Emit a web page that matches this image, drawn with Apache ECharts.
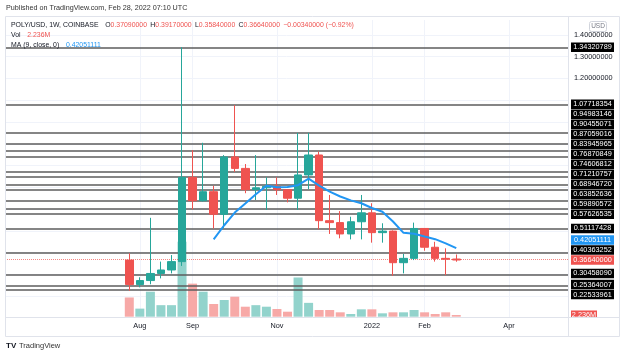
<!DOCTYPE html>
<html><head><meta charset="utf-8">
<script src="https://cdn.jsdelivr.net/npm/echarts@6/dist/echarts.min.js"></script>
<style>html,body{margin:0;padding:0;background:#fff}#c{width:624px;height:355px}</style>
</head><body><div id="c"></div>
<script>
// ---- data (weekly POLY/USD, Coinbase) ----
const weeks = ['2021-07-26','2021-08-02','2021-08-09','2021-08-16','2021-08-23','2021-08-30','2021-09-06','2021-09-13','2021-09-20','2021-09-27','2021-10-04','2021-10-11','2021-10-18','2021-10-25','2021-11-01','2021-11-08','2021-11-15','2021-11-22','2021-11-29','2021-12-06','2021-12-13','2021-12-20','2021-12-27','2022-01-03','2022-01-10','2022-01-17','2022-01-24','2022-01-31','2022-02-07','2022-02-14','2022-02-21','2022-02-28'];
const opens  = [0.366,0.2536,0.272,0.3046,0.3205,0.359,0.746,0.6385,0.680,0.5763,0.8395,0.787,0.6895,0.698,0.705,0.689,0.650,0.757,0.8485,0.547,0.538,0.486,0.542,0.583,0.492,0.499,0.354,0.374,0.5112,0.425,0.374,0.3709];
const highs  = [0.397,0.287,0.560,0.359,0.389,1.3432,0.8706,0.9046,0.707,0.848,1.0772,0.807,0.848,0.746,0.746,0.692,0.9498,0.9498,0.864,0.665,0.591,0.565,0.665,0.627,0.535,0.502,0.394,0.538,0.5112,0.450,0.420,0.3917];
const lows   = [0.2253,0.241,0.255,0.282,0.305,0.339,0.5989,0.635,0.5112,0.512,0.771,0.673,0.642,0.596,0.665,0.631,0.596,0.692,0.507,0.486,0.466,0.461,0.461,0.446,0.446,0.294,0.305,0.366,0.409,0.359,0.297,0.3584];
const closes = [0.2536,0.272,0.3046,0.3205,0.359,0.746,0.6385,0.680,0.5763,0.8395,0.787,0.6895,0.698,0.705,0.689,0.650,0.757,0.8485,0.547,0.538,0.486,0.542,0.583,0.492,0.499,0.354,0.374,0.5112,0.425,0.374,0.3698,0.3664];
const volumes = [25,10.5,32.5,15,15,97.5,43,32.5,16.5,21.7,26,13,15,13,10,6.5,51,18,8.7,8.7,5.7,3.5,9.6,9.6,4.4,5.7,5.7,8.7,5.7,3.5,5.7,2.236]; // millions
const ma9 = [null,null,null,null,null,null,null,null,0.461,0.526,0.584,0.626,0.668,0.707,0.700,0.702,0.710,0.740,0.708,0.680,0.658,0.640,0.627,0.605,0.588,0.543,0.491,0.487,0.474,0.462,0.443,0.42051111];
const levels = [1.34320789,1.07718354,0.94983146,0.90455071,0.87059016,0.83945965,0.76870849,0.74606812,0.71210757,0.68946720,0.63852636,0.59890572,0.57626535,0.51117428,0.40363252,0.30458090,0.25364007,0.22533961];
const priceTicks = [1.4, 1.3, 1.2];
const gridPrices = [1.4,1.3,1.2,1.1,1.0,0.9,0.8,0.7,0.6,0.5,0.4,0.3,0.2];
const tickLabels = [['2021-08-02','Aug'],['2021-09-06','Sep'],['2021-11-01','Nov'],['2022-01-03','2022'],['2022-02-07','Feb'],['2022-04-04','Apr']];

// ---- layout ----
const FONT = '"Liberation Sans", Arial, sans-serif';
const FS = 7.3;
const UP = '#26a69a', DOWN = '#ef5350', UPV = '#92d3cc', DOWNV = '#f7a9a7', BLUE = '#2196f3';
const PAD_L = 11, N = 53;
const PMIN = 0.1047, PMAX = 1.4683;

const cats = [];
const t0 = Date.UTC(2021, 6, 26);
for (let k = 0; k < N; k++) cats.push(new Date(t0 + (k - PAD_L) * 7 * 86400000).toISOString().slice(0, 10));
const labelMap = {}; tickLabels.forEach(t => labelMap[t[0]] = t[1]);

const candleData = weeks.map((w, i) => [w, opens[i], closes[i], lows[i], highs[i]]);
const volData = weeks.map((w, i) => ({value: [w, volumes[i]], itemStyle: {color: closes[i] >= opens[i] ? UPV : DOWNV}}));
const maData = weeks.map((w, i) => [w, ma9[i] == null ? '-' : ma9[i]]);

const chart = echarts.init(document.getElementById('c'), null, {renderer: 'canvas'});
chart.setOption({
  animation: false,
  backgroundColor: '#fff',
  grid: [
    {left: 5, top: 20, width: 563, height: 297},
    {left: 8, top: 20, width: 559, height: 297},
    {left: 8, top: 241.7, width: 559, height: 75}
  ],
  xAxis: [
    {gridIndex: 0, type: 'value', min: 0, max: 1, show: false},
    {gridIndex: 1, type: 'category', data: cats, boundaryGap: true,
      axisLine: {show: false}, axisTick: {show: false}, splitLine: {show: false},
      axisLabel: {interval: (i, v) => labelMap[v] !== undefined, formatter: v => labelMap[v] || '',
        fontSize: FS, fontFamily: FONT, color: '#131722', margin: 5}},
    {gridIndex: 2, type: 'category', data: cats, boundaryGap: true, show: false}
  ],
  yAxis: [
    {gridIndex: 0, type: 'value', min: PMIN, max: PMAX, position: 'right',
      axisLine: {show: false}, axisTick: {show: false}, splitLine: {show: false},
      axisLabel: {customValues: priceTicks, formatter: v => v.toFixed(8), fontSize: FS, fontFamily: FONT, color: '#131722', margin: 6}},
    {gridIndex: 1, type: 'value', min: PMIN, max: PMAX, show: false},
    {gridIndex: 2, type: 'value', min: 0, max: 'dataMax', show: false}
  ],
  series: [
    {type: 'line', xAxisIndex: 0, yAxisIndex: 0, data: [], z: 0, silent: true,
      markLine: {z: 0, silent: true, symbol: 'none', label: {show: false}, animation: false,
        data: gridPrices.map(p => ({yAxis: p, lineStyle: {color: '#f0f3fa', width: 1, type: 'solid'}}))}},
    {type: 'line', xAxisIndex: 1, yAxisIndex: 1, data: [], z: 0, silent: true,
      markLine: {z: 0, silent: true, symbol: 'none', label: {show: false}, animation: false,
        data: tickLabels.map(t => ({xAxis: t[0], lineStyle: {color: '#f0f3fa', width: 1, type: 'solid'}}))}},
    {type: 'bar', xAxisIndex: 2, yAxisIndex: 2, data: volData, barWidth: 9, z: 1, silent: true},
    {type: 'line', xAxisIndex: 0, yAxisIndex: 0, data: [], z: 2, silent: true,
      markLine: {z: 2, silent: true, symbol: 'none', label: {show: false}, animation: false,
        data: levels.map(p => ({yAxis: p, lineStyle: {color: '#5d5d5d', width: 1.5, type: 'solid'}}))
          .concat([{yAxis: closes[closes.length - 1], lineStyle: {color: DOWN, width: 1, type: 'dotted', opacity: 0.7}}])}},
    {type: 'candlestick', xAxisIndex: 1, yAxisIndex: 1, data: candleData, encode: {x: 0, y: [1, 2, 3, 4]},
      barWidth: 8, z: 4, silent: true,
      itemStyle: {color: UP, color0: DOWN, borderColor: UP, borderColor0: DOWN, borderWidth: 1}},
    {type: 'line', xAxisIndex: 1, yAxisIndex: 1, data: maData, z: 5, silent: true,
      showSymbol: false, symbol: 'none', connectNulls: false,
      lineStyle: {color: BLUE, width: 2}}
  ]
});

// ---- price labels on the right scale (TradingView-style overlap fixing) ----
const yOf = v => chart.convertToPixel({yAxisIndex: 0}, v);
const last = closes.length - 1;
const H = 10;
const priceItem = {v: closes[last], bg: DOWN, y: yOf(closes[last])};
const others = levels.map(v => ({v, bg: '#000', y: yOf(v)}));
others.push({v: ma9[last], bg: BLUE, y: yOf(ma9[last])});
priceItem.ly = priceItem.y;
const above = others.filter(it => it.y <= priceItem.y).sort((a, b) => b.y - a.y);
const below = others.filter(it => it.y > priceItem.y).sort((a, b) => a.y - b.y);
let prev = priceItem.ly;
above.forEach(it => { it.ly = Math.min(it.y, prev - H); prev = it.ly; });
prev = priceItem.ly;
below.forEach(it => { it.ly = Math.max(it.y, prev + H); prev = it.ly; });
const items = others.concat([priceItem]);

const g = [];
items.forEach(it => {
  g.push({type: 'rect', z: 50, shape: {x: 571, y: it.ly - H / 2 + 0.3, width: 43, height: H - 0.6}, style: {fill: it.bg}});
  g.push({type: 'text', z: 51, x: 592.5, y: it.ly, style: {text: it.v.toFixed(8), fill: '#fff', font: FS + 'px ' + FONT, align: 'center', verticalAlign: 'middle'}});
});
// volume label
const vy = chart.convertToPixel({yAxisIndex: 2}, volumes[last]);
g.push({type: 'rect', z: 50, shape: {x: 571, y: vy - 4.5, width: 26, height: 9}, style: {fill: DOWN}});
g.push({type: 'text', z: 51, x: 584, y: vy, style: {text: volumes[last].toFixed(3) + 'M', fill: '#fff', font: FS + 'px ' + FONT, align: 'center', verticalAlign: 'middle'}});
// cover below pane in scale column
g.push({type: 'rect', z: 60, shape: {x: 569, y: 318, width: 51, height: 18}, style: {fill: '#fff'}});
// frame
g.push({type: 'rect', z: 70, shape: {x: 5.5, y: 16.5, width: 614, height: 320}, style: {fill: 'none', stroke: '#e0e3eb', lineWidth: 1}});
g.push({type: 'line', z: 70, shape: {x1: 568.5, y1: 16.5, x2: 568.5, y2: 336.5}, style: {stroke: '#e0e3eb', lineWidth: 1}});
g.push({type: 'line', z: 70, shape: {x1: 5.5, y1: 317.5, x2: 619.5, y2: 317.5}, style: {stroke: '#e0e3eb', lineWidth: 1}});
// USD tag
g.push({type: 'rect', z: 70, shape: {x: 589.5, y: 21.5, width: 17, height: 10, r: 2}, style: {fill: '#fff', stroke: '#d1d4dc', lineWidth: 1}});
g.push({type: 'text', z: 71, x: 598, y: 26.5, style: {text: 'USD', fill: '#787b86', font: '6.5px ' + FONT, align: 'center', verticalAlign: 'middle'}});
// header
g.push({type: 'text', z: 80, x: 6, y: 8.5, style: {text: 'Published on TradingView.com, Feb 28, 2022 07:10 UTC', fill: '#333', font: '7.2px ' + FONT, verticalAlign: 'middle'}});
const chg = closes[last] - closes[last - 1];
const pct = chg / closes[last - 1] * 100;
const neg = s => s.replace('-', '\u2212');
const LF = '6.9px ' + FONT;
g.push({type: 'text', z: 80, x: 11, y: 25, style: {
  text: '{n|POLY/USD, 1W, COINBASE}  {k|O}{v|' + opens[last].toFixed(8) + '} {k|H}{v|' + highs[last].toFixed(8) + '} {k|L}{v|' + lows[last].toFixed(8) + '} {k|C}{v|' + closes[last].toFixed(8) + '} {v|' + neg(chg.toFixed(8)) + ' (' + neg(pct.toFixed(2)) + '%)}',
  verticalAlign: 'middle',
  rich: {n: {fill: '#131722', font: LF}, k: {fill: '#131722', font: LF}, v: {fill: DOWN, font: LF}}}});
g.push({type: 'text', z: 80, x: 11, y: 35, style: {text: '{k|Vol}  {v|' + volumes[last].toFixed(3) + 'M}', verticalAlign: 'middle',
  rich: {k: {fill: '#131722', font: LF}, v: {fill: DOWN, font: LF}}}});
g.push({type: 'text', z: 80, x: 11, y: 45.5, style: {text: '{k|MA (9, close, 0)}  {v|' + ma9[last].toFixed(8) + '}', verticalAlign: 'middle',
  rich: {k: {fill: '#131722', font: LF}, v: {fill: BLUE, font: LF}}}});
// footer
g.push({type: 'text', z: 80, x: 6, y: 346, style: {text: 'TV', fill: '#131722', font: 'bold 8px ' + FONT, verticalAlign: 'middle'}});
g.push({type: 'text', z: 80, x: 19, y: 346, style: {text: 'TradingView', fill: '#333', font: '7.5px ' + FONT, verticalAlign: 'middle'}});

chart.setOption({graphic: g});
</script>
</body></html>
